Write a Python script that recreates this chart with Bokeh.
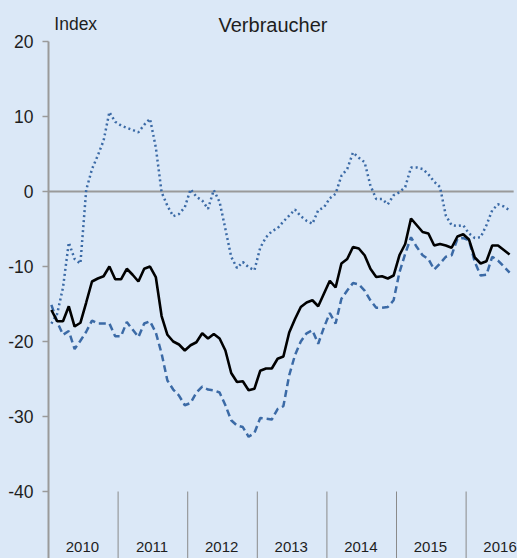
import numpy as np
import pandas as pd
from bokeh.plotting import figure
from bokeh.models import Range1d, FixedTicker, Label, ColumnDataSource, GlobalInlineStyleSheet
from bokeh.embed import file_html
from bokeh.resources import INLINE
from bokeh.core.properties import value

# ---- data -------------------------------------------------------------
months = pd.date_range("2010-01-01", periods=80, freq="MS")

series_solid = [
    -15.8, -17.3, -17.3, -15.3, -18.0, -17.5, -14.8, -12.0, -11.6, -11.3,
    -10.0, -11.7, -11.7, -10.3, -11.1, -12.0, -10.3, -10.0, -11.4, -16.6,
    -19.1, -20.0, -20.4, -21.2, -20.5, -20.1, -18.9, -19.6, -19.0, -19.6,
    -21.2, -24.2, -25.4, -25.3, -26.5, -26.3, -23.9, -23.6, -23.6, -22.3,
    -22.0, -18.8, -17.0, -15.4, -14.8, -14.5, -15.3, -13.6, -11.9, -12.8,
    -9.6, -9.0, -7.4, -7.6, -8.5, -10.3, -11.4, -11.3, -11.6, -11.2,
    -8.5, -7.0, -3.6, -4.5, -5.4, -5.6, -7.2, -7.0, -7.2, -7.5,
    -6.0, -5.7, -6.4, -8.8, -9.6, -9.3, -7.2, -7.2, -7.8, -8.4,
]

series_dashed = [
    -15.1, -17.4, -19.1, -18.6, -21.0, -19.9, -18.7, -17.2, -17.6, -17.6,
    -17.6, -19.3, -19.3, -17.4, -18.4, -19.4, -17.6, -17.3, -18.8, -21.6,
    -25.2, -26.4, -27.2, -28.5, -28.2, -26.8, -26.0, -26.4, -26.5, -26.8,
    -28.5, -30.5, -31.2, -31.4, -32.7, -32.2, -30.2, -30.3, -30.4, -29.0,
    -28.6, -24.5, -21.8, -20.0, -18.9, -18.5, -20.3, -18.1, -16.2, -17.6,
    -14.3, -13.2, -12.2, -12.4, -13.2, -14.5, -15.5, -15.5, -15.4, -14.5,
    -10.8, -8.3, -6.1, -7.4, -8.5, -9.0, -10.4, -9.6, -8.7, -8.5,
    -6.3, -6.2, -6.5, -9.4, -11.2, -11.1, -8.7, -9.2, -10.0, -10.8,
]

series_dotted = [
    -17.6, -16.3, -12.8, -6.8, -9.0, -9.6, 0.2, 3.0, 4.8, 6.8,
    10.6, 9.3, 8.8, 8.5, 8.2, 7.9, 8.9, 9.7, 5.9, -0.1,
    -1.9, -3.3, -3.0, -2.1, 0.3, -0.7, -1.2, -2.3, 0.2, -1.4,
    -5.0, -8.7, -10.2, -9.4, -10.1, -10.5, -7.5, -6.1, -5.3, -4.9,
    -4.0, -3.2, -2.4, -3.3, -3.9, -4.3, -2.5, -2.1, -0.9, -0.3,
    2.1, 3.0, 5.2, 4.5, 3.9, 0.8, -1.0, -1.0, -1.7, -0.5,
    -0.1, 0.6, 3.2, 3.2, 3.0, 2.3, 1.3, 0.6, -3.2, -4.5,
    -4.6, -4.5, -5.6, -6.2, -6.1, -4.5, -2.5, -1.7, -2.0, -2.5,
]

years = [2010, 2011, 2012, 2013, 2014, 2015, 2016]
y_ticks = [20, 10, 0, -10, -20, -30, -40]
y_label = "Index"
title_text = "Verbraucher"

# ---- styling ----------------------------------------------------------
BG = "#dbe8f7"
GRAY = "#9a9a9a"
BLUE = "#3b6aa6"
FONT = "Liberation Sans"

start_year = years[0]
x_pos = [(d.year - start_year) * 12 + d.month - 1 + 0.5 for d in months]

src = ColumnDataSource(dict(x=x_pos, solid=series_solid, dashed=series_dashed, dotted=series_dotted))

Y_TOP, Y_BOTTOM = 25.47, -48.93
X_END = 80.86
ZERO_END = 80.2

p = figure(width=517, height=558, output_backend="svg", toolbar_location=None,
           x_range=Range1d(0, X_END), y_range=Range1d(Y_BOTTOM, Y_TOP),
           x_axis_location=None,
           min_border_left=48, min_border_right=0, min_border_top=0, min_border_bottom=0,
           background_fill_color=BG, border_fill_color=BG, outline_line_color=None)
p.stylesheets = [GlobalInlineStyleSheet(css="html, body {margin:0; padding:0; background:%s; overflow:hidden;}" % BG)]

p.xgrid.visible = False
p.ygrid.visible = False

ax = p.yaxis[0]
ax.ticker = FixedTicker(ticks=y_ticks)
ax.major_label_overrides = {t: str(t) for t in y_ticks}
ax.bounds = (Y_BOTTOM, max(y_ticks))
ax.axis_line_color = GRAY
ax.axis_line_width = 2
ax.major_tick_line_color = GRAY
ax.major_tick_line_width = 1.5
ax.major_tick_out = 6
ax.major_tick_in = 0
ax.minor_tick_line_color = None
ax.major_label_standoff = 9
ax.major_label_text_font = FONT
ax.major_label_text_font_size = "17.5px"
ax.major_label_text_color = "#1e1e1e"

# zero line
p.segment(x0=[0], y0=[0], x1=[ZERO_END], y1=[0], line_color=GRAY, line_width=2)

# year separators and labels
sep_x = [(y - start_year) * 12 for y in years[1:]]
p.segment(x0=sep_x, y0=[min(y_ticks)] * len(sep_x), x1=sep_x, y1=[Y_BOTTOM] * len(sep_x),
          line_color="#8a8a8a", line_width=1)
lab_x = [(y - start_year) * 12 + 5.85 for y in years]
p.text(x=lab_x, y=[-47.4] * len(years), text=[str(y) for y in years],
       text_align="center", text_baseline="middle", text_font=value(FONT),
       text_font_size="15px", text_color="#1e1e1e")

# series
p.line("x", "dotted", source=src, line_color=BLUE, line_width=2.5, line_dash="2 3")
p.line("x", "dashed", source=src, line_color=BLUE, line_width=2.5, line_dash="7 4")
p.line("x", "solid", source=src, line_color="black", line_width=2.6)

# texts
p.add_layout(Label(x=1.0, y=22.3, text=y_label, text_baseline="middle", text_align="left",
                   text_font=FONT, text_font_size="17.5px", text_color="#1e1e1e"))
p.add_layout(Label(x=38.7, y=22.2, text=title_text, text_baseline="middle", text_align="center",
                   text_font=FONT, text_font_size="20px", text_color="#1e1e1e"))

open("out.html", "w").write(file_html(p, INLINE))
